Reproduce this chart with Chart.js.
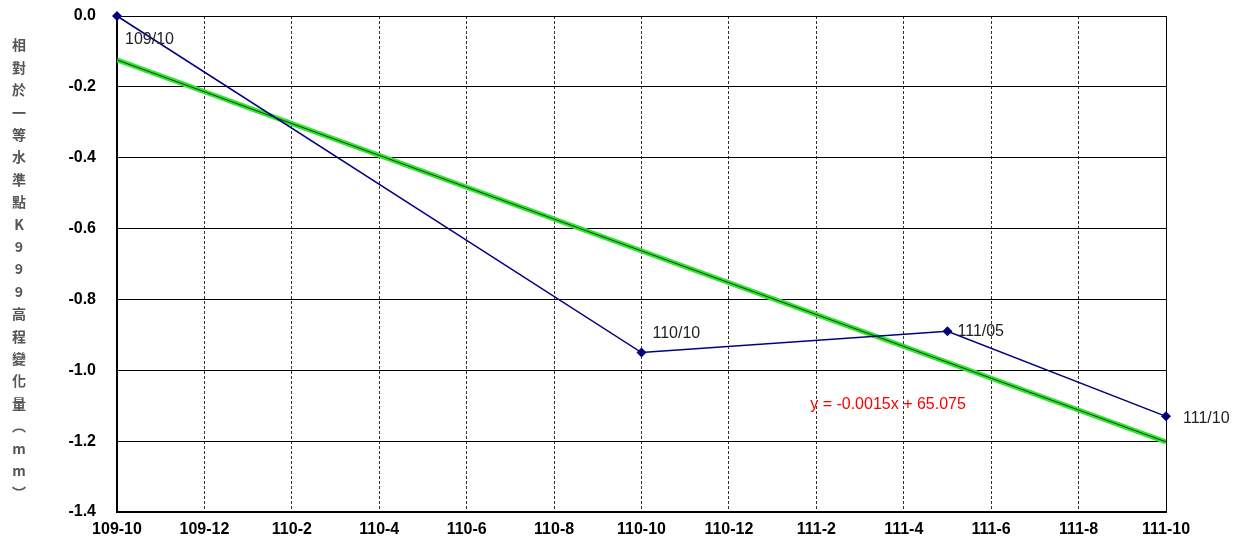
<!DOCTYPE html>
<html>
<head>
<meta charset="utf-8">
<script src="https://cdn.jsdelivr.net/npm/chart.js@4/dist/chart.umd.min.js"></script>
<style>
  html, body { margin: 0; padding: 0; background: #fff; }
  #wrap { width: 1257px; height: 547px; position: relative; }
</style>
</head>
<body>
<div id="wrap"><canvas id="myChart"></canvas></div>
<script>
// months counted from 109-10
var monthLabels = ['109-10','109-11','109-12','110-1','110-2','110-3','110-4','110-5','110-6','110-7','110-8','110-9','110-10','110-11','110-12','111-1','111-2','111-3','111-4','111-5','111-6','111-7','111-8','111-9','111-10'];
var surveyMonths = [0, 12, 19, 24];
var surveyValues = [0.0, -0.95, -0.89, -1.13];
var surveyNames = ['109/10', '110/10', '111/05', '111/10'];
var trendMonths = [0, 24];
var trendValues = [-0.124, -1.202];
var trendText = 'y = -0.0015x + 65.075';
var yTitle = ['相','對','於','一','等','水','準','點','K','9','9','9','高','程','變','化','量','︵','m','m','︶'];

var FONT = '"Liberation Sans", Arial, sans-serif';

function toPts(xs, ys) {
	var out = [];
	for (var i = 0; i < xs.length; i++) out.push({x: xs[i], y: ys[i]});
	return out;
}

var labelPlugin = {
	id: 'labels',
	afterDatasetsDraw: function(chart) {
		var ctx = chart.ctx;
		var xs = chart.scales.x, ys = chart.scales.y;
		var offs = [[8, 24], [11, -19], [10, 0], [17, 2]];
		ctx.save();
		ctx.font = '16px ' + FONT;
		ctx.fillStyle = '#222';
		ctx.textBaseline = 'middle';
		ctx.textAlign = 'left';
		for (var i = 0; i < surveyNames.length; i++) {
			var px = xs.getPixelForValue(surveyMonths[i]);
			var py = ys.getPixelForValue(surveyValues[i]);
			ctx.fillText(surveyNames[i], px + offs[i][0], py + offs[i][1]);
		}
		// trend equation
		ctx.fillStyle = '#ff0000';
		ctx.fillText(trendText, xs.getPixelForValue(15.86), ys.getPixelForValue(-1.098));
		// vertical axis title
		ctx.font = 'bold 14px "Noto Sans CJK TC", ' + FONT;
		ctx.fillStyle = '#555';
		ctx.textAlign = 'center';
		for (var j = 0; j < yTitle.length; j++) {
			ctx.fillText(yTitle[j], 19, 45 + j * 22.4);
		}
		ctx.restore();
	}
};

var ctx = document.getElementById('myChart');
var chart = new Chart(ctx, {
	type: 'scatter',
	data: {
		datasets: [
			{
				label: 'survey',
				data: toPts(surveyMonths, surveyValues),
				showLine: true,
				borderColor: '#000080',
				backgroundColor: '#000080',
				borderWidth: 1.5,
				pointStyle: 'rectRot',
				pointRadius: 5,
				pointBorderWidth: 0,
				clip: false,
				order: 1
			},
			{
				label: 'trend',
				data: toPts(trendMonths, trendValues),
				showLine: true,
				borderColor: '#2ee62e',
				borderWidth: 5,
				pointRadius: 0,
				order: 3
			},
			{
				label: 'trend core',
				data: toPts(trendMonths, trendValues),
				showLine: true,
				borderColor: '#1a3a1a',
				borderWidth: 1,
				pointRadius: 0,
				order: 2
			}
		]
	},
	options: {
		responsive: true,
		maintainAspectRatio: false,
		animation: false,
		layout: { padding: { left: 0, right: 91, top: 16, bottom: 0 } },
		plugins: {
			legend: { display: false },
			tooltip: { enabled: false }
		},
		scales: {
			x: {
				type: 'linear',
				min: 0,
				max: 24,
				afterFit: function(s) { s.height = 35; },
				ticks: {
					stepSize: 2,
					color: '#000',
					font: { family: FONT, size: 16, weight: 'bold' },
					maxRotation: 0,
					padding: 8,
					callback: function(v) { return monthLabels[v]; }
				},
				grid: {
					color: function(c) { return c.tick && c.tick.value === 24 ? '#000' : '#333'; },
					lineWidth: 1,
					drawTicks: false
				},
				border: {
					color: '#000',
					width: 2,
					dash: function(c) { return c.tick && c.tick.value === 24 ? [] : [3, 2]; }
				}
			},
			y: {
				min: -1.4,
				max: 0,
				afterFit: function(s) { s.width = 117; },
				ticks: {
					stepSize: 0.2,
					color: '#000',
					font: { family: FONT, size: 16, weight: 'bold' },
					padding: 3,
					callback: function(v) { return v.toFixed(1); }
				},
				grid: {
					color: '#000',
					lineWidth: 1,
					drawTicks: true,
					tickLength: 18,
					tickColor: 'rgba(0,0,0,0)'
				},
				border: { color: '#000', width: 2 }
			}
		}
	},
	plugins: [labelPlugin]
});
</script>
</body>
</html>
